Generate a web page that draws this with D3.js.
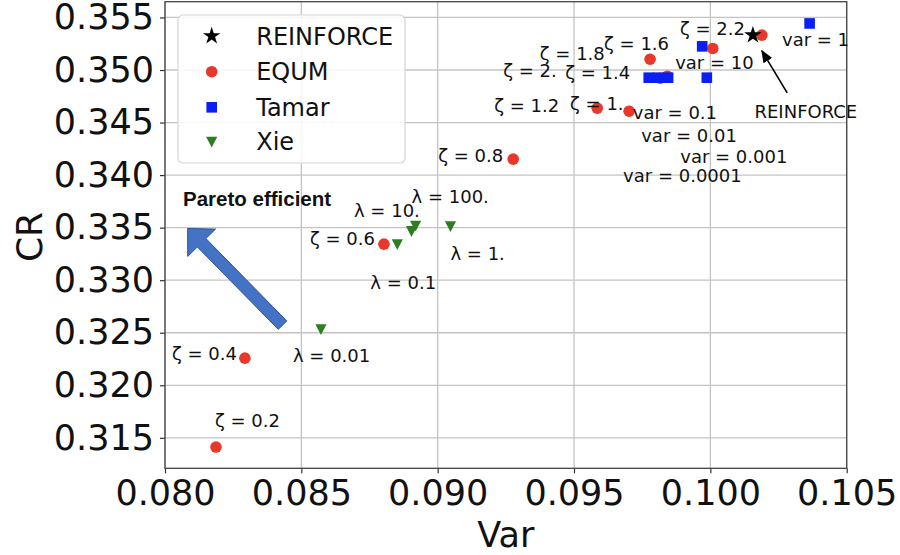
<!DOCTYPE html>
<html>
<head>
<meta charset="utf-8">
<script src="https://cdn.jsdelivr.net/npm/d3@7"></script>
<style>
  body { margin: 0; background: #fff; }
  text { font-family: "DejaVu Sans", sans-serif; fill: #111; }
</style>
</head>
<body>
<svg id="chart"></svg>
<script>
// taille du graphique
const width = 900, height = 555;
const margin = {top: 1.7, right: 53.3, bottom: 86.7, left: 165};

// données
const xTicks = [0.080, 0.085, 0.090, 0.095, 0.100, 0.105];
const yTicks = [0.315, 0.320, 0.325, 0.330, 0.335, 0.340, 0.345, 0.350, 0.355];

const reinforceVar = [0.10156];
const reinforceCR = [0.35332];

const equumLabels = ["ζ = 0.2", "ζ = 0.4", "ζ = 0.6", "ζ = 0.8", "ζ = 1.", "ζ = 1.2",
                     "ζ = 1.4", "ζ = 1.6", "ζ = 1.8", "ζ = 2.", "ζ = 2.2"];
const equumVar = [0.08187, 0.08293, 0.08803, 0.09277, 0.09702, 0.09585,
                  0.09842, 0.09779, 0.10009, 0.09816, 0.10189];
const equumCR = [0.31412, 0.32258, 0.33343, 0.34152, 0.34608, 0.34637,
                 0.34941, 0.35103, 0.35205, 0.34922, 0.35332];

const tamarLabels = ["var = 1", "var = 10", "var = 0.1", "var = 0.01", "var = 0.001", "var = 0.0001"];
const tamarVar = [0.10364, 0.09970, 0.09987, 0.09774, 0.09809, 0.09845];
const tamarCR = [0.35443, 0.35225, 0.34927, 0.34927, 0.34927, 0.34927];

const xieLabels = ["λ = 0.01", "λ = 0.1", "λ = 1.", "λ = 10.", "λ = 100."];
const xieVar = [0.08572, 0.08852, 0.09047, 0.08904, 0.08919];
const xieCR = [0.32534, 0.33343, 0.33514, 0.33467, 0.33519];

// décalages des étiquettes (pixels : bord gauche, centre vertical)
const equumOffsets = [[-1, -27], [-73, -5], [-74, -6], [-75, -4], [-59, -8], [-103, -3],
                      [-102, -4], [-46, -16], [-173, 5], [-157, -8], [-82, -7]];
const tamarOffsets = [[-27.6, 16], [-27, 16], [-74, 35], [-7.5, 57.5], [22, 78.5], [-45, 97.5]];
const xieOffsets = [[-28, 26], [-27, 38], [0, 27], [-57.5, -21], [-4, -29]];

const colors = {reinforce: "#000", equum: "#e8382b", tamar: "#0a1ff2", xie: "#2f7d22"};

const svg = d3.select("#chart")
    .attr("width", width)
    .attr("height", height);

const xScale = d3.scaleLinear()
    .domain([0.080, 0.105])
    .range([margin.left, width - margin.right]);

const yScale = d3.scaleLinear()
    .domain([0.3121, 0.3565])
    .range([height - margin.bottom, margin.top]);

// grille
svg.append("g").selectAll("line")
    .data(xTicks)
    .enter().append("line")
    .attr("x1", d => xScale(d)).attr("x2", d => xScale(d))
    .attr("y1", margin.top).attr("y2", height - margin.bottom)
    .attr("stroke", "#c4c4c4").attr("stroke-width", 1.3);

svg.append("g").selectAll("line")
    .data(yTicks)
    .enter().append("line")
    .attr("x1", margin.left).attr("x2", width - margin.right)
    .attr("y1", d => yScale(d)).attr("y2", d => yScale(d))
    .attr("stroke", "#c4c4c4").attr("stroke-width", 1.3);

// axes
const xAxis = svg.append("g")
    .attr("transform", `translate(0,${height - margin.bottom})`)
    .call(d3.axisBottom(xScale).tickValues(xTicks).tickFormat(d3.format(".3f"))
        .tickSize(5).tickPadding(6.5));
const yAxis = svg.append("g")
    .attr("transform", `translate(${margin.left},0)`)
    .call(d3.axisLeft(yScale).tickValues(yTicks).tickFormat(d3.format(".3f"))
        .tickSize(5).tickPadding(6));
[xAxis, yAxis].forEach(a => {
    a.select(".domain").remove();
    a.selectAll("line").attr("stroke", "#333").attr("stroke-width", 1.2);
    a.selectAll("text").attr("font-size", 35);
});

svg.append("rect")
    .attr("x", margin.left).attr("y", margin.top)
    .attr("width", width - margin.right - margin.left)
    .attr("height", height - margin.bottom - margin.top)
    .attr("fill", "none").attr("stroke", "#444").attr("stroke-width", 1.3);

svg.append("text")
    .attr("x", (margin.left + width - margin.right) / 2)
    .attr("y", 547)
    .attr("text-anchor", "middle")
    .attr("font-size", 35)
    .text("Var");

svg.append("text")
    .attr("transform", "translate(42,237) rotate(-90)")
    .attr("text-anchor", "middle")
    .attr("font-size", 36)
    .text("CR");

// flèche "Pareto efficient"
const tip = [xScale(0.08083), yScale(0.33492)];
const tail = [xScale(0.08431), yScale(0.32572)];
const len = Math.hypot(tip[0] - tail[0], tip[1] - tail[1]);
const u = [(tip[0] - tail[0]) / len, (tip[1] - tail[1]) / len];
const n = [-u[1], u[0]];
const sw = 6, hw = 19.5, hl = 20;
const base = [tip[0] - u[0] * hl, tip[1] - u[1] * hl];
const pt = (p, k) => [p[0] + n[0] * k, p[1] + n[1] * k];
svg.append("polygon")
    .attr("points", [pt(tail, sw), pt(base, sw), pt(base, hw), tip, pt(base, -hw), pt(base, -sw), pt(tail, -sw)]
        .map(p => p.join(",")).join(" "))
    .attr("fill", "#4472c4").attr("stroke", "#2f528f").attr("stroke-width", 1);

svg.append("text")
    .attr("x", xScale(0.08066))
    .attr("y", yScale(0.33778) + 7.5)
    .style("font-family", "'Liberation Sans', Arial, sans-serif")
    .style("font-weight", "bold")
    .attr("font-size", 20.5)
    .text("Pareto efficient");

// points
const tri = "M-5.6,-5 L5.6,-5 L0,5.8 Z";
const star = d3.symbol(d3.symbolStar, 95);

svg.append("g").selectAll("circle")
    .data(equumVar)
    .enter().append("circle")
    .attr("cx", d => xScale(d))
    .attr("cy", (d, i) => yScale(equumCR[i]))
    .attr("r", 5.8)
    .attr("fill", colors.equum);

svg.append("g").selectAll("path")
    .data(reinforceVar)
    .enter().append("path")
    .attr("d", star)
    .attr("transform", (d, i) => `translate(${xScale(d)},${yScale(reinforceCR[i])})`)
    .attr("fill", colors.reinforce);

svg.append("g").selectAll("rect")
    .data(tamarVar)
    .enter().append("rect")
    .attr("x", d => xScale(d) - 5.3)
    .attr("y", (d, i) => yScale(tamarCR[i]) - 5.3)
    .attr("width", 10.6).attr("height", 10.6)
    .attr("fill", colors.tamar);

svg.append("g").selectAll("path")
    .data(xieVar)
    .enter().append("path")
    .attr("d", tri)
    .attr("transform", (d, i) => `translate(${xScale(d)},${yScale(xieCR[i])})`)
    .attr("fill", colors.xie);

// étiquettes
function addLabels(xs, ys, labels, offsets) {
    svg.append("g").selectAll("text")
        .data(labels)
        .enter().append("text")
        .attr("x", (d, i) => xScale(xs[i]) + offsets[i][0])
        .attr("y", (d, i) => yScale(ys[i]) + offsets[i][1] + 6.5)
        .attr("font-size", 18)
        .text(d => d);
}
addLabels(equumVar, equumCR, equumLabels, equumOffsets);
addLabels(tamarVar, tamarCR, tamarLabels, tamarOffsets);
addLabels(xieVar, xieCR, xieLabels, xieOffsets);

// annotation REINFORCE
const rx = xScale(reinforceVar[0]), ry = yScale(reinforceCR[0]);
svg.append("text")
    .attr("x", rx + 1.6).attr("y", ry + 76.7 + 6.5)
    .attr("font-size", 18)
    .text("REINFORCE");
svg.append("defs").append("marker")
    .attr("id", "head").attr("viewBox", "0 0 10 10")
    .attr("refX", 9).attr("refY", 5)
    .attr("markerWidth", 8).attr("markerHeight", 8)
    .attr("orient", "auto")
    .append("path").attr("d", "M0,1 L10,5 L0,9 Z").attr("fill", "#000");
svg.append("line")
    .attr("x1", rx + 34.3).attr("y1", ry + 57.7)
    .attr("x2", rx + 9).attr("y2", ry + 15.7)
    .attr("stroke", "#000").attr("stroke-width", 1.6)
    .attr("marker-end", "url(#head)");

// légende
const legend = svg.append("g");
legend.append("rect")
    .attr("x", 178).attr("y", 15).attr("width", 227).attr("height", 148)
    .attr("rx", 5)
    .attr("fill", "#fff").attr("fill-opacity", 0.85)
    .attr("stroke", "#d6d6d6").attr("stroke-width", 1.2);
const legendNames = ["REINFORCE", "EQUM", "Tamar", "Xie"];
const legendY = [36, 71.7, 107.3, 141.7];
legendNames.forEach((name, i) => {
    const g = legend.append("g").attr("transform", `translate(211.7,${legendY[i]})`);
    if (i === 0) g.append("path").attr("d", star).attr("fill", colors.reinforce);
    if (i === 1) g.append("circle").attr("r", 5.8).attr("fill", colors.equum);
    if (i === 2) g.append("rect").attr("x", -5.3).attr("y", -5.3).attr("width", 10.6).attr("height", 10.6).attr("fill", colors.tamar);
    if (i === 3) g.append("path").attr("d", tri).attr("fill", colors.xie);
    g.append("text")
        .attr("x", 44.5).attr("y", 8.7)
        .attr("font-size", 24)
        .text(name);
});
</script>
</body>
</html>
